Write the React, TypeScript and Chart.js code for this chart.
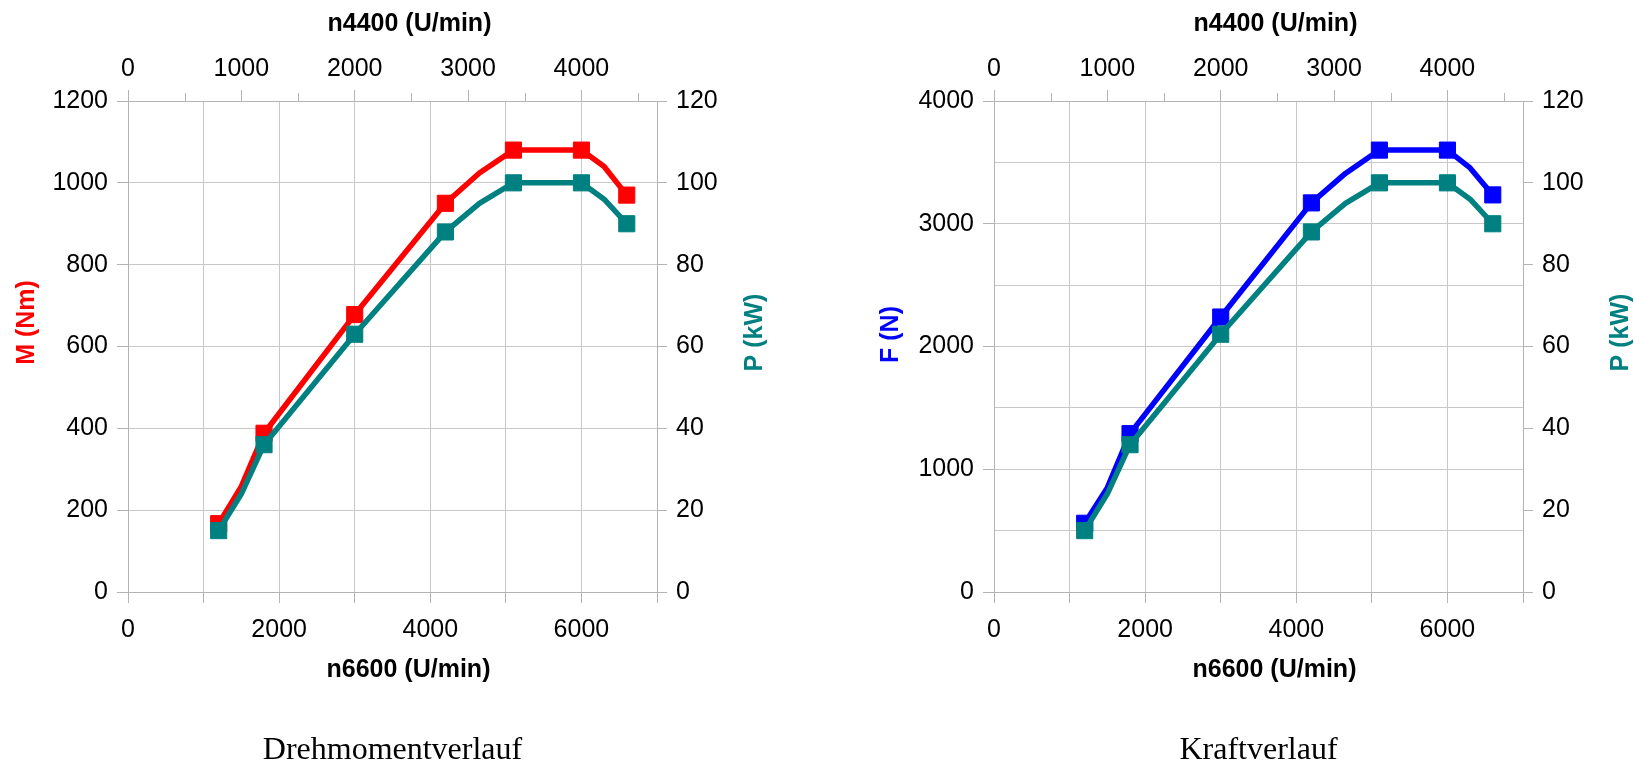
import React, { useEffect, useRef } from 'react';
import { Chart, registerables } from 'chart.js';

Chart.register(...registerables);

// ---- data (bottom axis: n6600 in U/min) ----
const speedN6600 = [1200, 1500, 1800, 3000, 4200, 4650, 5100, 6000, 6300, 6600];
const markerAt = [true, false, true, true, true, false, true, true, false, true];
const torqueNm = [167, 258, 388, 678, 950, 1024, 1080, 1080, 1040, 970];
const powerKW = [15, 24, 36, 63, 88, 95, 100, 100, 96, 90];
const forceN = [560, 850, 1290, 2240, 3170, 3410, 3600, 3600, 3455, 3235];

// ---- axes ----
const bottomMax = 7000;
const bottomStep = 1000;
const bottomLabelEvery = 2000;
const topMax = (7000 * 4400) / 6600;
const topTickValues = [0, 1000, 2000, 3000, 4000];
const topMinorValues = [500, 1500, 2500, 3500, 4500];
const torqueMax = 1200;
const torqueStep = 200;
const forceMax = 4000;
const forceStep = 500;
const forceLabelEvery = 1000;
const powerMax = 120;
const powerStep = 20;

// ---- texts ----
const topAxisTitle = 'n4400 (U/min)';
const bottomAxisTitle = 'n6600 (U/min)';
const torqueTitle = 'M (Nm)';
const forceTitle = 'F (N)';
const powerTitle = 'P (kW)';
const captionLeft = 'Drehmomentverlauf';
const captionRight = 'Kraftverlauf';

const RED = '#ff0000';
const TEAL = '#008080';
const BLUE = '#0000ff';
const GRID = '#c8c8c8';
const AXIS = '#b3b3b3';
const SANS = '"Liberation Sans", Arial, sans-serif';
const SERIF = '"Liberation Serif", "Times New Roman", serif';

const CW = 817;
const CH = 764;

Chart.defaults.font.family = SANS;
Chart.defaults.font.size = 25;
Chart.defaults.color = '#000';

interface Spec {
  leftValues: number[];
  leftColor: string;
  leftMax: number;
  leftStep: number;
  leftLabelEvery: number;
  leftTitle: string;
  leftTitleDx: number;
  leftTitleDy: number;
  leftAxisWidth: number;
  rightAxisWidth: number;
  caption: string;
}

function pts(values: number[]) {
  return speedN6600.map((x, i) => ({ x, y: values[i] }));
}

const isMul = (v: number, m: number) => Math.abs(Math.round(v / m) * m - v) < 1e-6;

function makeConfig(s: Spec): any {
  const radii = markerAt.map((m) => (m ? 11.4 : 0));
  const overlay = {
    id: 'overlayTexts',
    afterDraw(chart: any) {
      const { ctx, chartArea } = chart;
      const cx = (chartArea.left + chartArea.right) / 2;
      const cy = (chartArea.top + chartArea.bottom) / 2;
      ctx.save();
      // minor ticks on top axis
      const xTop = chart.scales.xTop;
      ctx.strokeStyle = AXIS;
      ctx.lineWidth = 1;
      topMinorValues.forEach((v) => {
        const px = Math.round(xTop.getPixelForValue(v)) + 0.5;
        ctx.beginPath();
        ctx.moveTo(px, chartArea.top - 8);
        ctx.lineTo(px, chartArea.top);
        ctx.stroke();
      });
      ctx.textAlign = 'center';
      ctx.textBaseline = 'middle';
      ctx.font = 'bold 25px ' + SANS;
      ctx.fillStyle = '#000';
      ctx.fillText(topAxisTitle, cx + 17, chartArea.top - 77);
      ctx.fillText(bottomAxisTitle, cx + 16, chartArea.bottom + 78);
      // left y title
      ctx.save();
      ctx.translate(chartArea.left - s.leftTitleDx, cy + s.leftTitleDy);
      ctx.rotate(-Math.PI / 2);
      ctx.fillStyle = s.leftColor;
      ctx.fillText(s.leftTitle, 0, 0);
      ctx.restore();
      // right y title
      ctx.save();
      ctx.translate(chartArea.right + 98, cy - 14);
      ctx.rotate(-Math.PI / 2);
      ctx.fillStyle = TEAL;
      ctx.fillText(powerTitle, 0, 0);
      ctx.restore();
      // caption
      ctx.font = '32px ' + SERIF;
      ctx.textBaseline = 'alphabetic';
      ctx.fillStyle = '#000';
      ctx.fillText(s.caption, cx, 759);
      ctx.restore();
    },
  };

  const lineStyle = (color: string) => ({
    borderColor: color,
    backgroundColor: color,
    borderWidth: 5.5,
    pointStyle: 'rect',
    pointRadius: radii,
    pointBorderWidth: 1,
    pointBorderColor: color,
    pointBackgroundColor: color,
    tension: 0,
    borderJoinStyle: 'round',
  });

  return {
    type: 'line',
    data: {
      datasets: [
        { data: pts(powerKW), yAxisID: 'yRight', xAxisID: 'x', order: 0, ...lineStyle(TEAL) },
        { data: pts(s.leftValues), yAxisID: 'y', xAxisID: 'x', order: 1, ...lineStyle(s.leftColor) },
      ],
    },
    options: {
      animation: false,
      responsive: false,
      devicePixelRatio: 1,
      events: [],
      layout: { padding: 0 },
      plugins: { legend: { display: false }, tooltip: { enabled: false }, title: { display: false } },
      scales: {
        x: {
          type: 'linear',
          position: 'bottom',
          min: 0,
          max: bottomMax,
          afterFit: (sc: any) => {
            sc.height = CH - 592;
          },
          ticks: {
            stepSize: bottomStep,
            autoSkip: false,
            maxRotation: 0,
            padding: 12,
            callback: (v: number) => (isMul(v, bottomLabelEvery) ? String(Math.round(v)) : ''),
          },
          grid: { color: GRID, tickColor: AXIS, tickLength: 11, drawOnChartArea: true },
          border: { color: AXIS },
        },
        xTop: {
          type: 'linear',
          position: 'top',
          min: 0,
          max: topMax,
          afterBuildTicks: (sc: any) => {
            sc.ticks = topTickValues.map((value) => ({ value }));
          },
          afterFit: (sc: any) => {
            sc.height = 101;
          },
          ticks: {
            autoSkip: false,
            maxRotation: 0,
            padding: 6,
            callback: (v: number) => String(Math.round(v)),
          },
          grid: { drawOnChartArea: false, tickLength: 11, tickColor: AXIS },
          border: { color: AXIS },
        },
        y: {
          type: 'linear',
          position: 'left',
          min: 0,
          max: s.leftMax,
          afterFit: (sc: any) => {
            sc.width = s.leftAxisWidth;
          },
          ticks: {
            stepSize: s.leftStep,
            autoSkip: false,
            padding: 9,
            callback: (v: number) => (isMul(v, s.leftLabelEvery) ? String(Math.round(v)) : ''),
          },
          grid: {
            color: GRID,
            tickLength: 11,
            tickColor: (c: any) => (c.tick && isMul(c.tick.value, s.leftLabelEvery) ? AXIS : 'rgba(0,0,0,0)'),
          },
          border: { color: AXIS },
        },
        yRight: {
          type: 'linear',
          position: 'right',
          min: 0,
          max: powerMax,
          afterFit: (sc: any) => {
            sc.width = s.rightAxisWidth;
          },
          ticks: { stepSize: powerStep, autoSkip: false, padding: 9, callback: (v: number) => String(Math.round(v)) },
          grid: { drawOnChartArea: false, tickLength: 10, tickColor: AXIS },
          border: { color: AXIS },
        },
      },
    },
    plugins: [overlay],
  };
}

const leftSpec: Spec = {
  leftValues: torqueNm,
  leftColor: RED,
  leftMax: torqueMax,
  leftStep: torqueStep,
  leftLabelEvery: torqueStep,
  leftTitle: torqueTitle,
  leftTitleDx: 101,
  leftTitleDy: -24,
  leftAxisWidth: 128,
  rightAxisWidth: CW - 657,
  caption: captionLeft,
};

const rightSpec: Spec = {
  leftValues: forceN,
  leftColor: BLUE,
  leftMax: forceMax,
  leftStep: forceStep,
  leftLabelEvery: forceLabelEvery,
  leftTitle: forceTitle,
  leftTitleDx: 103,
  leftTitleDy: -12,
  leftAxisWidth: 994 - CW,
  rightAxisWidth: CW - (1523 - CW),
  caption: captionRight,
};

function ChartCanvas({ spec, left }: { spec: Spec; left: number }) {
  const ref = useRef<HTMLCanvasElement>(null);
  useEffect(() => {
    const chart = new Chart(ref.current as HTMLCanvasElement, makeConfig(spec));
    return () => chart.destroy();
  }, [spec]);
  return (
    <canvas
      ref={ref}
      width={CW}
      height={CH}
      style={{ position: 'absolute', left, top: 0, width: CW, height: CH, display: 'block' }}
    />
  );
}

export default function App() {
  return (
    <div style={{ position: 'absolute', left: 0, top: 0, width: 1634, height: 764, background: '#fff', overflow: 'hidden' }}>
      <ChartCanvas spec={leftSpec} left={0} />
      <ChartCanvas spec={rightSpec} left={CW} />
    </div>
  );
}
